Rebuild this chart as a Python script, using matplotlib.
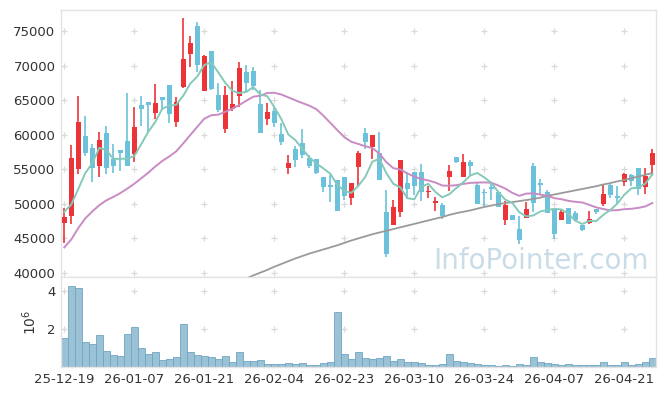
import numpy as np
import pandas as pd
import matplotlib
matplotlib.use("Agg")
import matplotlib.pyplot as plt
from matplotlib.ticker import FuncFormatter

# ---------------- data ----------------
opens = [47300, 48300, 55100, 59830, 58100, 55540, 60260, 56550, 57800, 59100,
         57230, 64300, 64740, 63200, 65420, 67150, 61900, 66960, 71720, 75770,
         66380, 72160, 65750, 60790, 63730, 65610, 69080, 69220, 64450, 62240,
         63440, 60120, 55250, 57950, 58820, 56700, 56510, 53810, 52750, 53380,
         53950, 50780, 55300, 60220, 58190, 57330, 48850, 46920, 48750, 52990,
         54580, 54580, 51640, 50100, 49860, 53950, 56840, 53810, 56120, 52750,
         51640, 52410, 51740, 47690, 48320, 46390, 47930, 55500, 52990, 51640,
         49280, 47690, 49430, 48660, 46970, 47210, 49280, 50000, 52750, 51160,
         53090, 54150, 55160, 52370, 55640]
highs = [49400, 58500, 65600, 62700, 58630, 60350, 61270, 58630, 57800, 66000,
         64020, 65600, 64740, 67340, 65420, 67150, 65510, 76830, 74280, 76250,
         71530, 72160, 67440, 67100, 67780, 70570, 70040, 69750, 66480, 64650,
         63830, 61760, 57040, 58390, 60840, 56990, 56510, 53810, 54100, 53380,
         53950, 53040, 57710, 60990, 59930, 60460, 52030, 50490, 56310, 54580,
         54580, 55780, 52510, 51060, 50100, 55590, 56840, 57180, 56270, 53140,
         52170, 52990, 51740, 50340, 48320, 48180, 50250, 55880, 53620, 52030,
         49280, 49140, 49430, 48900, 46970, 48950, 49280, 52750, 52990, 52510,
         54440, 54290, 55160, 55160, 57900]
lows = [44300, 47050, 54300, 56950, 53150, 53850, 54350, 54530, 54680, 55400,
        56030, 61270, 60220, 62240, 63590, 61660, 61080, 66720, 69850, 69030,
        66380, 66480, 63350, 60220, 63440, 64070, 66140, 66480, 60310, 61370,
        61080, 58530, 54340, 55300, 56700, 55250, 54290, 51640, 50250, 48990,
        50580, 49860, 52610, 57900, 56510, 53380, 42300, 46920, 48030, 50680,
        51310, 50440, 50820, 48990, 47840, 51790, 55900, 53810, 54200, 49960,
        49620, 50490, 49480, 46970, 47600, 44180, 47930, 48800, 51450, 48660,
        44900, 47600, 47070, 47450, 46100, 47020, 48560, 49620, 50820, 50100,
        52510, 52510, 51210, 51400, 54200]
closes = [48100, 56700, 61850, 57420, 55250, 59250, 55110, 55500, 57420, 55400,
          61130, 63780, 64360, 64550, 65030, 63060, 64690, 70910, 73270, 70140,
          71390, 66620, 63590, 65750, 64450, 69650, 67540, 67050, 60310, 63300,
          61760, 58870, 55930, 56270, 56990, 55500, 54530, 52370, 52370, 48990,
          51160, 53040, 57420, 58870, 59930, 53380, 42730, 49570, 56310, 52120,
          52510, 51690, 51880, 50440, 48180, 54770, 56120, 56070, 55400, 49960,
          51550, 52170, 49480, 49860, 47600, 44800, 49230, 50100, 52750, 48660,
          45620, 48800, 47070, 47690, 46250, 47840, 48750, 51450, 51310, 50780,
          54290, 53330, 52120, 54050, 57420]
volumes = [1.51, 4.26, 4.14, 1.30, 1.21, 1.67, 0.84, 0.63, 0.58, 1.74,
           2.09, 0.98, 0.68, 0.77, 0.37, 0.42, 0.51, 2.25, 0.77, 0.61,
           0.58, 0.51, 0.42, 0.56, 0.26, 0.77, 0.32, 0.32, 0.37, 0.14,
           0.14, 0.14, 0.19, 0.16, 0.19, 0.09, 0.09, 0.19, 0.25, 2.88,
           0.67, 0.42, 0.79, 0.47, 0.42, 0.47, 0.58, 0.32, 0.42, 0.26,
           0.26, 0.19, 0.09, 0.09, 0.14, 0.68, 0.32, 0.26, 0.21, 0.16,
           0.11, 0.11, 0.05, 0.11, 0.05, 0.16, 0.11, 0.53, 0.26, 0.21,
           0.16, 0.11, 0.16, 0.11, 0.11, 0.11, 0.11, 0.26, 0.11, 0.11,
           0.26, 0.11, 0.16, 0.26, 0.47]  # millions of shares
# moving-average warm-up values (before enough visible closes exist)
ma5_head = [48850, 49900, 52150, 54450]
ma20_head = [43700, 44850, 46500, 47900, 48900, 49800, 50500, 51000, 51550, 52200,
             52900, 53700, 54500, 55400, 56200, 56850, 57600, 58750, 59950]
# long moving average (gray); starts at index 26
ma_long_start = 26
ma_long = [39200, 39650, 40050, 40450, 40900, 41300, 41700, 42100, 42450, 42800,
           43100, 43400, 43700, 44000, 44350, 44700, 45000, 45300, 45600, 45850,
           46100, 46350, 46600, 46850, 47100, 47350, 47600, 47850, 48100, 48400,
           48650, 48850, 49050, 49300, 49550, 49750, 49950, 50100, 50250, 50400,
           50550, 50700, 50900, 51150, 51350, 51550, 51750, 51950, 52150, 52350,
           52550, 52800, 53000, 53250, 53450, 53700, 53950, 54200, 54450]
tick_labels = ["25-12-19", "26-01-07", "26-01-21", "26-02-04", "26-02-23",
               "26-03-10", "26-03-24", "26-04-07", "26-04-21"]
tick_step = 10

# ---------------- derived ----------------
n = len(closes)
x = np.arange(n)
o = np.array(opens, float); c = np.array(closes, float)
h = np.array(highs, float); l = np.array(lows, float)
cs = pd.Series(c)
ma5 = cs.rolling(5).mean().to_numpy()
ma5[:len(ma5_head)] = ma5_head
ma20 = cs.rolling(20).mean().to_numpy()
ma20[:len(ma20_head)] = ma20_head
ma_l = np.full(n, np.nan)
ma_l[ma_long_start:ma_long_start + len(ma_long)] = ma_long
vol = np.array(volumes) * 1e6

RED = "#ec3338"
BLUE = "#6bc2da"
GRID = "#d9d9d9"
SPINE = "#e3e3e3"
TXT = "#333333"

plt.rcParams["font.family"] = ["DejaVu Sans"]
fig = plt.figure(figsize=(6.65, 3.96), dpi=100)
L, R = 61 / 665, 656 / 665
ax = fig.add_axes([L, 1 - 277 / 396, R - L, (277 - 10) / 396])
axv = fig.add_axes([L, 1 - 367 / 396, R - L, (367 - 277) / 396], sharex=ax)

up = c >= o
cols = np.where(up, RED, BLUE)
body_lo = np.minimum(o, c)
body_h = np.maximum(np.abs(c - o), 60)
ax.vlines(x, l, h, colors=cols, linewidth=1.2, zorder=2)
ax.bar(x, body_h, bottom=body_lo, width=0.72, color=cols, linewidth=0, zorder=3)

ax.plot(x, ma_l, color="#9a9a9a", linewidth=1.3, zorder=4)
ax.plot(x, ma20, color="#c98bc3", linewidth=1.4, zorder=4)
ax.plot(x, ma5, color="#84c9b9", linewidth=1.4, zorder=4)

ax.text(0.987, 0.03, "InfoPointer.com", transform=ax.transAxes, ha="right",
        va="baseline", fontsize=20, color="#c9dce7", zorder=1)

ax.set_xlim(-0.47, n - 0.47)
ax.set_ylim(39420, 78030)
yt = np.arange(40000, 75001, 5000)
ax.set_yticks(yt)
xt = np.arange(0, n, tick_step)
# grid drawn as small crosses at tick intersections
gx, gy = np.meshgrid(xt, yt)
ax.plot(gx.ravel(), gy.ravel(), "+", color=GRID, markersize=5, mew=0.9, zorder=0)

axv.bar(x, vol, width=1.0, color="#9bc1d5", edgecolor="#6ea5c5", linewidth=0.6, zorder=2)
axv.set_ylim(0, 4.74e6)
vt = [2e6, 4e6]
axv.set_yticks(vt)
axv.yaxis.set_major_formatter(FuncFormatter(lambda v, p: f"{v / 1e6:g}"))
axv.set_ylabel(r"$10^{6}$", fontsize=10, color=TXT, labelpad=6)
gx2, gy2 = np.meshgrid(xt, vt)
axv.plot(gx2.ravel(), gy2.ravel(), "+", color=GRID, markersize=5, mew=0.9, zorder=0)

axv.set_xticks(xt)
axv.set_xticklabels(tick_labels)
plt.setp(ax.get_xticklabels(), visible=False)

for a in (ax, axv):
    for s in a.spines.values():
        s.set_color(SPINE)
        s.set_linewidth(1.0)
    a.tick_params(length=0, labelsize=9.5, colors=TXT, pad=4)
    a.set_facecolor("white")
ax.tick_params(axis="x", length=0)

fig.savefig("out.png", dpi=100, facecolor="white")
